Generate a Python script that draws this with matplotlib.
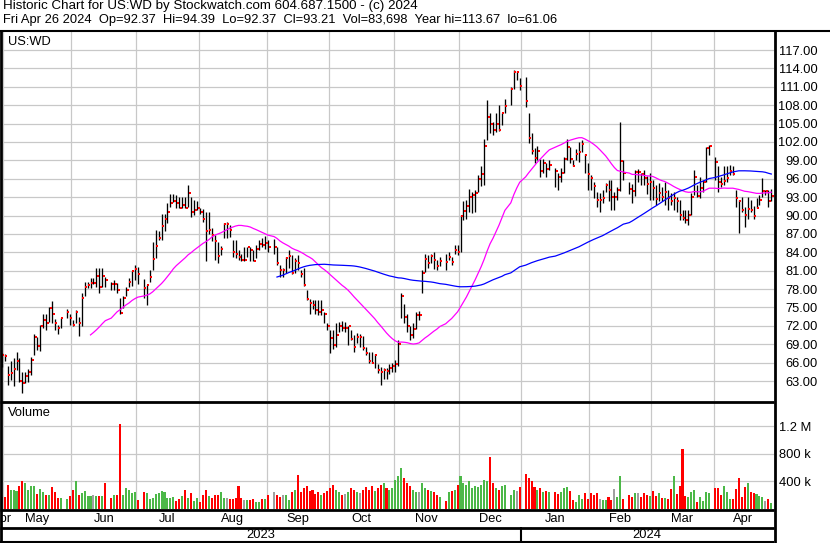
import numpy as np
import pandas as pd
import matplotlib
matplotlib.use('Agg')
import matplotlib.pyplot as plt
from matplotlib.lines import Line2D

nan = np.nan
W, H = 830, 543

# one slot per weekday, holidays left empty
dates = pd.bdate_range('2023-04-28', '2024-04-26')

highs = [
    67.5, 67.4, 65.4, 66.2, 66.7, 67.7, 66.8, 64.4, 64.5, 65.0,
    66.9, 70.7, 70.1, 72.2, 74.0, 73.9, 75.1, 76.0, 73.1, 72.1,
    73.3, nan, 74.7, 74.0, 73.0, 74.6, 73.4, 77.4, 79.1, 79.1,
    79.8, 79.8, 81.4, 81.4, 81.4, 80.0, nan, 79.2, 79.5, 79.0,
    76.5, 76.8, 78.4, 79.8, 81.0, 81.9, 81.6, nan, 79.6, 78.7,
    81.1, 85.7, 87.6, 87.5, 90.2, 90.3, 92.0, 93.5, 93.5, 93.3,
    93.1, 93.0, 93.0, 95.0, 93.1, 92.5, 92.4, 91.2, 91.0, 90.6,
    90.6, 88.0, 86.8, 85.7, 85.0, 88.8, 88.9, 88.4, 86.0, 86.0,
    84.4, 83.8, 84.9, 84.9, 84.9, 84.4, 85.2, 86.0, 86.3, 86.6,
    86.0, nan, 86.1, 84.9, 81.9, 81.4, 83.3, 84.4, 83.6, 83.1,
    83.6, 81.1, 81.4, 77.9, 76.4, 76.2, 76.2, 76.2, 76.2, 74.3,
    72.4, 71.3, 71.3, 72.4, 72.7, 72.8, 72.6, 72.0, 71.3, 70.5,
    70.8, 70.6, 70.3, 68.5, 67.8, 67.8, 67.4, 65.8, 65.3, 65.1,
    65.1, 65.7, 66.0, 66.5, 69.7, 77.4, 75.5, 74.0, 72.0, 72.5,
    74.3, 74.5, 81.1, 83.7, 83.5, 83.8, 84.1, 82.7, 83.3, nan,
    83.8, 84.1, 83.3, 85.2, 85.2, 90.1, 92.3, 92.5, 94.4, 93.9,
    94.2, 96.6, 98.0, 102.4, 108.9, 106.7, 105.3, 106.7, 108.0, 106.8,
    109.0, nan, 110.9, 113.67, 113.6, 112.5, nan, 112.6, 106.8, 103.4,
    101.0, 101.3, 99.2, 99.3, 98.5, 99.0, nan, 97.7, 96.9, 97.7,
    99.6, 102.4, 101.2, 99.1, 100.9, 102.0, 102.3, 100.1, 98.5, 96.6,
    95.5, 93.9, 93.6, 94.2, 95.3, 95.8, 95.8, 93.9, 94.6, 105.2,
    99.1, nan, 95.5, 95.2, 97.4, 97.6, 97.0, 97.5, 96.5, 96.9,
    95.8, 95.0, 95.3, 94.7, 95.4, 94.2, 93.6, 93.9, 93.1, 92.5,
    90.9, 90.9, 90.9, 93.6, 97.4, 95.0, 96.3, 95.8, 101.2, 101.5,
    nan, 99.5, 98.0, 96.3, 98.1, 98.0, 98.2, 98.1, 94.2, 92.5,
    93.1, 91.4, 93.1, 92.5, 91.6, 92.8, 93.3, 96.1, 94.2, 94.2,
    94.39,
]

lows = [
    65.3, 66.3, 62.3, 63.2, 62.2, 64.8, 62.9, 61.06, 62.7, 62.9,
    64.0, 67.2, 68.1, 67.9, 71.6, 71.3, 72.7, 72.4, 71.3, 70.6,
    71.6, nan, 73.2, 72.1, 71.9, 72.4, 70.4, 71.9, 76.8, 78.1,
    78.1, 78.9, 78.3, 77.4, 78.4, 78.3, nan, 77.8, 77.8, 77.3,
    73.9, 74.9, 76.9, 78.4, 78.5, 79.5, 78.8, nan, 76.5, 75.4,
    79.2, 81.1, 83.1, 86.0, 86.0, 87.5, 88.7, 91.4, 92.2, 91.2,
    91.3, 91.2, 91.2, 91.4, 89.8, 90.1, 90.9, 90.3, 89.0, 82.6,
    87.0, 85.9, 82.7, 82.3, 83.5, 86.3, 86.3, 86.5, 83.3, 83.0,
    82.7, 82.5, 82.5, 83.3, 82.5, 82.5, 83.0, 84.4, 84.9, 84.6,
    84.0, nan, 83.7, 82.0, 80.0, 80.0, 80.6, 81.4, 80.5, 80.7,
    81.1, 79.9, 78.5, 76.2, 74.0, 74.7, 74.0, 73.8, 73.8, 72.4,
    71.3, 67.6, 68.3, 68.6, 71.0, 71.2, 71.0, 68.9, 69.7, 67.8,
    69.2, 68.6, 68.0, 67.3, 65.9, 65.9, 65.1, 64.3, 62.3, 63.4,
    63.4, 64.2, 64.5, 64.5, 65.5, 73.2, 72.5, 71.0, 69.7, 70.0,
    71.5, 73.0, 77.3, 80.8, 81.4, 82.2, 81.2, 81.1, 81.7, nan,
    81.1, 82.7, 82.0, 83.8, 83.5, 84.1, 89.3, 89.4, 90.6, 90.4,
    90.6, 93.9, 94.8, 95.0, 102.3, 103.4, 103.1, 103.7, 103.8, 104.8,
    106.7, nan, 108.0, 110.7, 112.1, 110.5, nan, 107.7, 101.8, 100.1,
    98.5, 99.0, 96.3, 96.9, 96.3, 97.4, nan, 94.7, 94.2, 95.5,
    96.9, 99.1, 98.5, 98.0, 99.0, 98.8, 100.4, 96.9, 94.2, 94.2,
    92.8, 91.4, 90.6, 92.0, 93.9, 92.3, 90.9, 90.9, 92.5, 94.0,
    95.8, nan, 93.5, 92.0, 93.2, 95.5, 95.0, 95.0, 93.5, 92.5,
    92.5, 91.7, 92.3, 92.3, 91.7, 90.9, 91.7, 90.9, 90.6, 89.3,
    89.3, 88.7, 88.5, 90.1, 93.3, 93.1, 92.8, 93.9, 95.5, 99.9,
    nan, 95.8, 93.9, 94.7, 95.0, 95.5, 96.6, 96.6, 91.4, 87.2,
    90.5, 88.2, 89.5, 90.6, 89.5, 91.2, 91.7, 93.1, 93.3, 91.4,
    92.37,
]

closes = [
    67.2, 67.1, 64.0, 64.3, 65.0, 66.3, 63.0, 62.7, 63.8, 64.5,
    66.4, 70.1, 68.7, 72.0, 73.0, 72.5, 74.9, 74.0, 72.4, 71.6,
    73.2, nan, 74.2, 73.2, 72.2, 74.3, 72.4, 76.6, 78.4, 78.6,
    79.0, 79.0, 80.2, 78.4, 80.2, 79.5, nan, 78.8, 78.9, 77.8,
    74.1, 76.6, 77.8, 79.2, 80.9, 81.2, 80.4, nan, 78.2, 78.6,
    80.0, 82.9, 85.1, 86.4, 88.3, 89.4, 90.5, 92.1, 92.4, 92.0,
    91.3, 91.7, 91.3, 93.7, 90.5, 90.9, 91.2, 90.6, 89.5, 87.4,
    87.7, 86.8, 85.9, 83.4, 84.6, 88.6, 88.6, 87.7, 84.1, 83.8,
    83.2, 82.7, 82.7, 84.8, 84.4, 82.5, 84.5, 85.4, 85.2, 85.5,
    84.9, nan, 84.9, 82.3, 81.1, 81.1, 83.0, 83.4, 80.7, 82.5,
    82.3, 80.5, 78.7, 76.4, 75.7, 75.4, 74.6, 74.2, 74.6, 74.0,
    72.0, 70.0, 68.8, 70.5, 72.0, 71.6, 71.6, 71.9, 69.8, 68.6,
    70.1, 70.1, 68.4, 67.5, 66.3, 66.0, 67.2, 64.8, 64.4, 64.8,
    64.7, 65.2, 65.5, 65.8, 69.0, 76.8, 73.5, 72.0, 70.5, 71.5,
    73.8, 73.8, 80.6, 82.9, 82.2, 83.4, 82.8, 81.7, 82.6, nan,
    82.4, 83.2, 82.4, 84.4, 84.1, 90.0, 90.8, 91.6, 93.0, 93.4,
    93.6, 96.0, 96.8, 101.3, 106.1, 104.9, 104.0, 104.9, 103.9, 106.7,
    107.9, nan, 110.6, 113.4, 113.4, 111.2, nan, 108.6, 102.7, 100.6,
    99.4, 100.6, 97.3, 98.6, 97.6, 98.3, nan, 97.3, 96.3, 96.9,
    99.2, 101.1, 99.3, 98.1, 100.1, 100.3, 101.6, 99.9, 96.7, 96.2,
    94.8, 92.5, 92.5, 92.9, 95.0, 94.2, 93.0, 93.0, 94.2, 98.9,
    97.0, nan, 94.3, 94.0, 97.1, 97.1, 96.7, 96.1, 95.1, 95.5,
    94.5, 92.7, 93.6, 93.1, 93.9, 92.8, 92.3, 92.8, 92.3, 90.1,
    89.6, 89.3, 90.1, 93.1, 96.3, 93.2, 94.5, 95.4, 101.0, 101.3,
    nan, 98.8, 95.4, 95.1, 95.6, 96.2, 97.2, 96.8, 92.8, 92.3,
    90.9, 90.1, 91.1, 90.9, 89.9, 91.3, 92.5, 94.0, 94.0, 92.4,
    93.21,
]

# daily volume, thousands of shares
volume_k = [
    180, 180, 351, 278, 270, 254, 327, 409, 375, 270,
    327, 330, 220, 290, 250, 210, 210, 318, 250, 160,
    160, nan, 140, 195, 270, 409, 210, 225, 255, 195,
    195, 210, 195, 195, 185, 370, nan, 160, 210, 210,
    1230, 210, 306, 280, 234, 250, 130, nan, 250, 225,
    140, 160, 215, 234, 260, 240, 165, 165, 175, 115,
    145, 190, 278, 160, 225, 115, 160, 100, 200, 278,
    190, 165, 210, 200, 250, 160, 160, 145, 150, 160,
    340, 160, 130, 130, 130, 145, 105, 105, 145, 150,
    200, nan, 250, 200, 180, 200, 200, 135, 250, 280,
    497, 250, 300, 330, 260, 280, 220, 240, 200, 230,
    260, 300, 350, 280, 250, 200, 220, 240, 300, 280,
    250, 230, 270, 320, 280, 330, 260, 300, 350, 380,
    300, 280, 300, 420, 480, 600, 450, 380, 330, 280,
    250, 240, 380, 300, 280, 260, 240, 200, 180, nan,
    120, 250, 260, 280, 350, 480, 380, 350, 400, 300,
    330, 320, 350, 420, 400, 750, 380, 300, 280, 330,
    350, nan, 200, 280, 260, 320, nan, 500, 450, 400,
    320, 280, 300, 250, 260, 240, nan, 250, 220, 240,
    302, 317, 263, 132, 102, 205, 146, 229, 146, 229,
    205, 239, 146, 132, 132, 180, 132, 288, 180, 483,
    146, nan, 205, 180, 239, 229, 175, 229, 205, 190,
    263, 190, 229, 166, 156, 151, 288, 483, 219, 336,
    863, 190, 171, 253, 278, 107, 180, 122, 249, 229,
    nan, 307, 307, 205, 336, 253, 151, 151, 288, 449,
    175, 312, 375, 253, 239, 214, 190, 175, 122, 151,
    84,
]

price_ticks = list(range(63, 118, 3))
vol_ticks = [400e3, 800e3, 1.2e6]
vol_labels = ['400 k', '800 k', '1.2 M']

header1 = 'Historic Chart for US:WD by Stockwatch.com 604.687.1500 - (c) 2024'
header2 = ('Fri Apr 26 2024  Op=92.37  Hi=94.39  Lo=92.37  Cl=93.21  '
           'Vol=83,698  Year hi=113.67  lo=61.06')

plt.rcParams['font.family'] = ['Liberation Sans', 'DejaVu Sans']
FS = 9.3
GRID = '#c8c8c8'

df = pd.DataFrame({'h': highs, 'l': lows, 'c': closes, 'v': volume_k})
df['x'] = np.arange(len(dates))
df['date'] = dates
tr = df.dropna(subset=['c']).copy()
tr['ma30'] = tr['c'].rolling(30).mean()
tr['ma90'] = tr['c'].rolling(90).mean()
chg = tr['c'].diff()
tr['col'] = np.where(chg > 0, '#4cb848', np.where(chg < 0, '#ff0000', '#a0a0a0'))

# month spans (start / centre) in slot units
grp = df.groupby([df['date'].dt.year, df['date'].dt.month])['x']
m_first = grp.min().values
m_last = grp.max().values
m_names = [pd.Timestamp(y, m, 1).strftime('%b') for (y, m) in grp.min().index]
m_centres = (m_first + m_last) / 2
bounds = m_first[1:] - 0.5
ygrp = df.groupby(df['date'].dt.year)['x']
y_centres = ((ygrp.min() + ygrp.max()) / 2).values
y_names = [str(y) for y in ygrp.min().index]
year_sep = ygrp.min().values[1] - 0.5

fig = plt.figure(figsize=(W / 100, H / 100), dpi=100)


def box(x0, y0, x1, y1):
    return [x0 / W, 1 - y1 / H, (x1 - x0) / W, (y1 - y0) / H]


xlim = ((1 - 1.7) / 2.96, (774 - 1.7) / 2.96)

ax = fig.add_axes(box(1, 31, 774, 401))
axv = fig.add_axes(box(1, 402, 774, 509))
axm = fig.add_axes(box(1, 509, 774, 527))
axy = fig.add_axes(box(1, 527, 774, 541))

for a in (ax, axv, axm, axy):
    a.set_xlim(*xlim)
    for s in a.spines.values():
        s.set_visible(False)
    a.tick_params(axis='x', length=0, labelbottom=False)

# price panel
ax.set_ylim(59.74, 120.1)
ax.set_xticks(bounds)
ax.set_yticks(price_ticks)
ax.grid(True, color=GRID, lw=0.9)
ax.set_axisbelow(True)
ax.yaxis.tick_right()
ax.set_yticklabels(['%.2f' % t for t in price_ticks], ha='right')
ax.tick_params(axis='y', length=0, pad=31.5, labelsize=FS)

ax.vlines(tr['x'], tr['l'], tr['h'], colors='black', lw=0.95)
ax.plot(tr['x'] + 0.5, tr['c'], ls='none', marker='s', ms=1.9, mew=0, color='#ff0000')
ax.plot(tr['x'], tr['ma30'], color='#ff00ff', lw=0.9)
ax.plot(tr['x'], tr['ma90'], color='#0000ff', lw=0.9)
fig.text(8 / W, 1 - 42 / H, 'US:WD', fontsize=FS, va='center', ha='left')

# volume panel
axv.set_ylim(0, 1.55e6)
axv.set_xticks(bounds)
axv.set_yticks(vol_ticks)
axv.grid(True, color=GRID, lw=0.9)
axv.set_axisbelow(True)
axv.yaxis.tick_right()
axv.set_yticklabels(vol_labels)
axv.tick_params(axis='y', length=0, pad=3.5, labelsize=FS)
axv.bar(tr['x'], tr['v'] * 1000, width=0.68, color=tr['col'], lw=0)
fig.text(8 / W, 1 - 413 / H, 'Volume', fontsize=FS, va='center', ha='left')

# month and year rows
axm.set_ylim(0, 1)
axm.set_yticks([])
for c, n in zip(m_centres, m_names):
    axm.text(c, 0.45, n, ha='center', va='center', fontsize=FS, clip_on=True)
axy.set_ylim(0, 1)
axy.set_yticks([])
for c, n in zip(y_centres, y_names):
    axy.text(c, 0.45, n, ha='center', va='center', fontsize=FS, clip_on=True)
axy.axvline(year_sep, color='black', lw=1.5)

# header
fig.text(3 / W, 1 - 0.5 / H, header1, fontsize=9.65, va='top', ha='left')
fig.text(3 / W, 1 - 14.5 / H, header2, fontsize=FS, va='top', ha='left')


def line(x0, y0, x1, y1, lw=1.5):
    fig.add_artist(Line2D([x0 / W, x1 / W], [1 - y0 / H, 1 - y1 / H],
                          transform=fig.transFigure, color='black', lw=lw,
                          solid_capstyle='butt'))


line(0, 30.5, W, 30.5)
line(0, 401.5, 774, 401.5, lw=2)
line(0, 509.5, 774, 509.5, lw=2)
line(0, 527.5, 774, 527.5, lw=2)
line(0, 541.5, 774, 541.5, lw=1.5)
line(1, 30, 1, 543, lw=2)
line(774.5, 30, 774.5, 543, lw=2)

fig.savefig('out.png', dpi=100)
